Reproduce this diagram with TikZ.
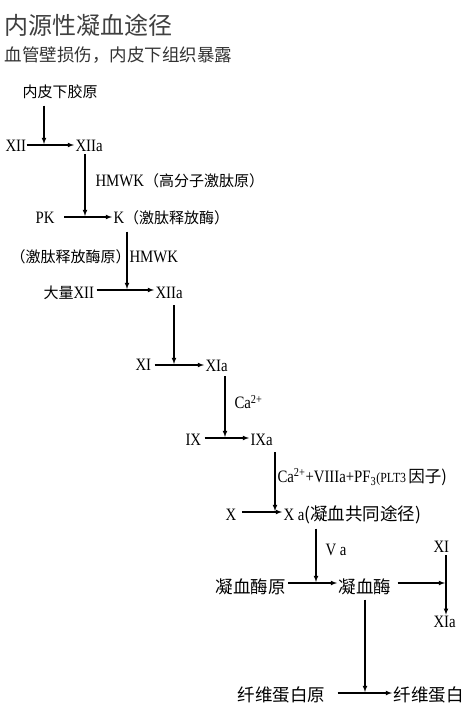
\documentclass[tikz,border=0pt]{standalone}
\usepackage{fontspec}
\setmainfont{Liberation Serif}[Scale=1.16,FakeStretch=0.85]
\newfontfamily\cjk{Noto Sans CJK SC}

\begin{document}
\begin{tikzpicture}[x=1pt,y=-1pt,>=latex,shorten >=1pt,line width=1.1pt,
main node/.style = {anchor=west, inner sep = 0pt, font=\fontsize{15}{18}\selectfont},
big node/.style = {main node, font=\fontsize{17.5}{21}\selectfont}]
\useasboundingbox (0,0) rectangle (469,708);

\coordinate (c1) at (44,145);
\coordinate (c2) at (85,217);
\coordinate (c3) at (127,290);
\coordinate (c4) at (174,365);
\coordinate (c5) at (225,438);
\coordinate (c6) at (275,512);
\coordinate (c7) at (316,583);
\coordinate (c8) at (446,583);
\coordinate (c9) at (365,693);

\node[main node,font=\fontsize{24}{28}\selectfont,text=black!75] (t) at (4,25) {\cjk 内源性凝血途径};
\node[main node,font=\fontsize{17.5}{21}\selectfont,text=black!80] (s) at (4,55) {\cjk 血管壁损伤，内皮下组织暴露};
\node[main node] (1) at (22,92) {\cjk 内皮下胶原};
\node[main node] (2) at (5,146) {XII};
\node[main node] (3) at (75,146) {XIIa};
\node[main node] (4) at (95,181) {HMWK{\cjk （高分子激肽原）}};
\node[main node] (5) at (35,218) {PK};
\node[main node] (6) at (113,218) {K{\cjk （激肽释放酶）}};
\node[main node] (7) at (10,257) {\cjk （激肽释放酶原）};
\node[main node] (8) at (129,257) {HMWK};
\node[main node] (9) at (43,293) {{\cjk 大量}XII};
\node[main node] (10) at (155,293) {XIIa};
\node[main node] (11) at (135,365) {XI};
\node[main node] (12) at (205,366) {XIa};
\node[main node] (13) at (234,402) {Ca\textsuperscript{2+}};
\node[main node] (14) at (185,440) {IX};
\node[main node] (15) at (250,440) {IXa};
\node[main node] (16) at (277,477) {Ca\textsuperscript{2+}+VIIIa+PF\textsubscript{3}{\fontsize{12}{14}\selectfont(PLT3\,}{\cjk\fontsize{16.5}{19}\selectfont 因子)}};
\node[main node] (17) at (225,515) {X};
\node[main node] (18) at (283,515) {X a{\cjk\fontsize{17.5}{21}\selectfont (凝血共同途径)}};
\node[main node] (19) at (325,550) {V a};
\node[main node] (20) at (433,547) {XI};
\node[big node] (21) at (215,587) {\cjk 凝血酶原};
\node[big node] (22) at (338,587) {\cjk 凝血酶};
\node[main node] (23) at (433,622) {XIa};
\node[big node] (24) at (237,695) {\cjk 纤维蛋白原};
\node[big node] (25) at (393,695) {\cjk 纤维蛋白};

\path[->]
(1.south -| c1) edge[shorten <=6pt] (c1)
(2.east |- c1) edge (3.west |- c1)
(3.south -| c2) edge[shorten <=2pt] (c2)
(5.east |- c2) edge[shorten <=9pt] (6.west |- c2)
(6.south -| c3) edge[shorten <=6pt] (c3)
(9.east |- c3) edge[shorten <=2pt] (10.west |- c3)
(10.south -| c4) edge[shorten <=6pt] (c4)
(11.east |- c4) edge[shorten <=3pt] (12.west |- c4)
(12.south -| c5) edge[shorten <=4pt] (c5)
(14.east |- c5) edge[shorten <=3pt] (15.west |- c5)
(15.south -| c6) edge[shorten <=6pt] (c6)
(17.east |- c6) edge[shorten <=5pt] (18.west |- c6)
(18.south -| c7) edge[shorten <=4pt] (c7)
(21.east |- c7) edge[shorten <=2pt] (22.west |- c7)
(22.east |- c8) edge[shorten <=6pt] (c8)
(20.south -| c8) edge[shorten <=2pt] (23.north -| c8)
(22.south -| c9) edge[shorten <=4pt] (c9)
(24.east |- c9) edge[shorten <=12pt] (25.west |- c9);
\end{tikzpicture}
\end{document}
